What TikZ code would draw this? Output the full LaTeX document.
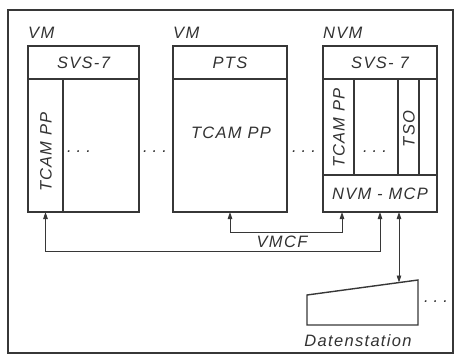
\documentclass[tikz,border=0pt]{standalone}
\usepackage{fontspec}
\newfontfamily\dinfont[LetterSpace=8]{Liberation Sans}
\usepackage{tikz}
\usetikzlibrary{arrows.meta}
\definecolor{inkgray}{RGB}{55,55,55}
\definecolor{txtgray}{RGB}{50,50,50}
\tikzset{
  lbltxt/.style  = {inner sep=0pt, text=txtgray,
                    font=\dinfont\itshape\fontsize{16.5}{19}\selectfont},
  boxnode/.style = {rectangle, draw=inkgray, line width=1.4pt,
                    inner sep=0pt, outer sep=0pt},
  hdrnode/.style = {boxnode, lbltxt, minimum height=33pt},
  dotsnode/.style= {lbltxt},
  linkedge/.style= {{Triangle[length=7pt,width=4.5pt]}-{Triangle[length=7pt,width=4.5pt]},
                    line width=0.9pt, inkgray}
}
\newcommand{\spdots}{.\kern5pt.\kern5pt.}

\begin{document}
\begin{tikzpicture}[x=1pt, y=-1pt]
  \useasboundingbox (0,0) rectangle (455,356);
  % Frame
  \draw[line width=1.4pt, inkgray] (8,10) rectangle (453,353);
  % VM (left)
  \node[lbltxt, anchor=west] (vmA) at (28,33) {VM};
  \node[hdrnode, minimum width=111pt] (svsA) at (83.5,62.5) {SVS-7};
  \node[boxnode, minimum width=35pt, minimum height=133pt] (tcamA) at (45.5,145.5) {};
  \node[boxnode, minimum width=76pt, minimum height=133pt] (restA) at (101,145.5) {};
  \node[lbltxt, rotate=90] (tcamAtxt) at (46,152) {TCAM PP};
  \node[dotsnode] (dotsA) at (79,152) {\spdots};
  \node[dotsnode] (dotsAB) at (155,152) {\spdots};
  % VM (middle)
  \node[lbltxt, anchor=west] (vmB) at (173,33) {VM};
  \node[hdrnode, minimum width=114pt] (ptsB) at (230,62.5) {PTS};
  \node[boxnode, minimum width=114pt, minimum height=133pt] (tcamB) at (230,145.5) {};
  \node[lbltxt] (tcamBtxt) at (231,133) {TCAM PP};
  \node[dotsnode] (dotsBC) at (304,152) {\spdots};
  % NVM (right)
  \node[lbltxt, anchor=west] (nvmC) at (323,33) {NVM};
  \node[hdrnode, minimum width=114pt] (svsC) at (380,62.5) {SVS- 7};
  \node[boxnode, minimum width=31pt, minimum height=96pt] (tcamC) at (338.5,127) {};
  \node[boxnode, minimum width=44pt, minimum height=96pt] (restC) at (376,127) {};
  \node[boxnode, minimum width=21pt, minimum height=96pt] (tsoC)  at (408.5,127) {};
  \node[boxnode, minimum width=18pt, minimum height=96pt] (freeC) at (428,127) {};
  \node[lbltxt, rotate=90] (tcamCtxt) at (339,128) {TCAM PP};
  \node[lbltxt, rotate=90] (tsoCtxt) at (409,129) {TSO};
  \node[dotsnode] (dotsC) at (375,152) {\spdots};
  \node[hdrnode, minimum width=114pt, minimum height=37pt] (mcp) at (380,193.5) {NVM - MCP};
  % Datenstation
  \coordinate (ds1) at (307,295); \coordinate (ds2) at (418,280);
  \coordinate (ds3) at (418,325); \coordinate (ds4) at (307,325);
  \draw[line width=1.4pt, inkgray] (ds1) -- (ds2) -- (ds3) -- (ds4) -- cycle;
  \node[lbltxt] (dslbl) at (358,341) {Datenstation};
  \node[dotsnode] (dotsD) at (436,302) {\spdots};
  % Links
  \coordinate (vmcfend) at (342,212);
  \coordinate (mcpR) at (399,212);
  \coordinate (dstop) at (399,282.5);
  \draw[linkedge] (tcamA.south) -- ++(0,39) -| (mcp.south);
  \draw[linkedge] (tcamB.south) -- ++(0,20) -| (vmcfend);
  \draw[linkedge] (mcpR) -- (dstop);
  \node[lbltxt] (vmcf) at (282,242) {VMCF};
\end{tikzpicture}
\end{document}
